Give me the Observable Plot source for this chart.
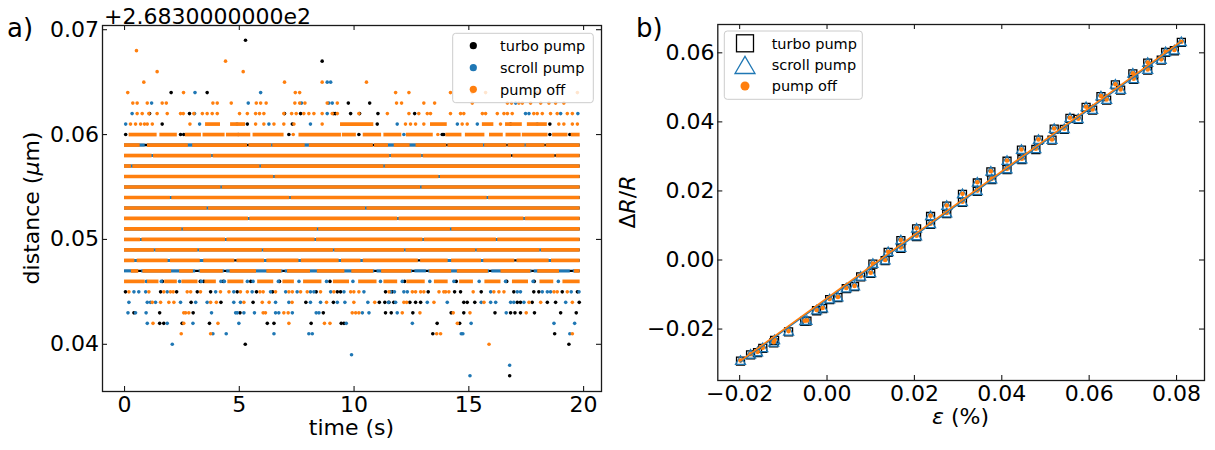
<!DOCTYPE html>
<html><head><meta charset="utf-8">
<script src="https://cdn.jsdelivr.net/npm/d3@7"></script>
<script src="https://cdn.jsdelivr.net/npm/@observablehq/plot@0.6"></script>
<style>
body{margin:0;background:#fff;}
#wrap{position:relative;width:1215px;height:450px;font-family:"DejaVu Sans",sans-serif;overflow:hidden;}
#wrap svg{position:absolute;top:0;}
</style></head><body><div id="wrap"></div>
<script>
const C_TURBO = "#000000", C_SCROLL = "#1f77b4", C_OFF = "#ff7f0e";
const seriesNames = ["turbo pump", "scroll pump", "pump off"];

// ---------- panel a: distance vs time (offset +2.6830000000e2 µm) ----------
const timeTicks = [0, 5, 10, 15, 20];
const distTicks = [0.04, 0.05, 0.06, 0.07];
const T_END = 19.85;

// occupied time ranges per quantised level: [level, [[t0,t1],...]]
const turboRuns = [
  [0.047,[[0,T_END]]],[0.048,[[0,T_END]]],[0.049,[[0,T_END]]],[0.050,[[0,T_END]]],
  [0.051,[[0,T_END]]],[0.052,[[0,T_END]]],[0.053,[[0,T_END]]],[0.054,[[0,T_END]]],
  [0.055,[[0,T_END]]],[0.056,[[0,T_END]]],[0.057,[[0,T_END]]],[0.058,[[0,T_END]]],
  [0.059,[[0,T_END]]]
];
const scrollRuns = [
  [0.047,[[0,0.6],[0.75,3.1],[3.25,4.35],[4.45,6.9],[7.0,10.9],[11.0,12.55],[12.65,13.15],[13.25,15.9],[16.0,17.75],[17.85,19.42],[19.55,T_END]]],
  [0.048,[[0,4.8],[4.9,12.8],[12.9,17.0],[17.1,T_END]]],
  [0.049,[[0,T_END]]],[0.050,[[0,T_END]]],[0.051,[[0,T_END]]],[0.052,[[0,T_END]]],
  [0.053,[[0,T_END]]],[0.054,[[0,T_END]]],[0.055,[[0,T_END]]],[0.056,[[0,T_END]]],
  [0.057,[[0,T_END]]],
  [0.058,[[0,16.85],[16.93,18.74],[18.82,T_END]]],
  [0.059,[[0,0.9],[1.0,5.35],[5.45,10.82],[10.9,14.02],[14.1,16.64],[16.72,18.3],[18.38,T_END]]]
];
const offRuns = [
  [0.046,[[0,0.9],[1.0,1.5],[1.75,2.3],[2.5,3.2],[3.5,4.0],[4.5,5.2],[5.8,6.5],[6.9,7.4],[7.8,8.6],[9.1,9.8],[10.2,11.0],[11.3,11.9],[12.3,13.1],[13.5,14.1],[14.6,15.2],[15.7,16.4],[16.9,17.6],[18.1,18.7],[19.1,T_END]]],
  [0.047,[[0.3,0.62],[0.8,2.05],[2.4,3.0],[3.3,4.3],[4.6,5.75],[6.2,6.85],[7.1,8.1],[8.4,9.6],[9.9,10.85],[11.2,12.5],[13.3,14.25],[14.5,15.85],[16.4,17.7],[18.0,18.95],[19.6,T_END]]],
  [0.048,[[0,0.45],[0.55,1.9],[2.0,3.3],[3.45,4.8],[4.9,6.1],[6.2,7.6],[7.7,9.35],[9.45,10.3],[10.4,12.8],[12.9,14.1],[14.25,15.55],[15.65,17.0],[17.1,18.5],[18.6,T_END]]],
  [0.049,[[0,1.3],[1.36,3.2],[3.26,6.0],[6.06,9.1],[9.16,12.2],[12.26,15.3],[15.36,18.1],[18.16,T_END]]],
  [0.050,[[0,0.7],[0.76,4.4],[4.46,8.3],[8.36,13.0],[13.06,16.2],[16.26,T_END]]],
  [0.051,[[0,2.5],[2.56,8.4],[8.46,14.2],[14.26,T_END]]],
  [0.052,[[0,5.4],[5.46,11.9],[11.96,17.4],[17.46,T_END]]],
  [0.053,[[0,3.6],[3.66,10.5],[10.56,T_END]]],
  [0.054,[[0,2.0],[2.06,7.2],[7.26,15.8],[15.86,T_END]]],
  [0.055,[[0,4.2],[4.26,12.9],[12.96,T_END]]],
  [0.056,[[0,6.5],[6.56,13.7],[13.76,T_END]]],
  [0.057,[[0,0.3],[0.36,5.9],[5.96,11.3],[11.36,T_END]]],
  [0.058,[[0,1.2],[1.26,3.8],[3.86,11.56],[11.62,12.95],[13.01,16.86],[16.92,18.75],[18.81,T_END]]],
  [0.059,[[0,0.68],[1.0,2.78],[2.97,5.36],[5.42,6.41],[6.46,7.87],[8.05,10.84],[10.89,11.5],[11.75,12.44],[12.7,14.04],[14.09,15.64],[15.69,16.66],[16.71,17.45],[17.5,18.32],[18.37,T_END]]],
  [0.060,[[0.2,1.42],[1.54,2.3],[2.65,3.35],[3.42,4.38],[4.44,5.5],[5.6,6.95],[7.6,9.45],[9.49,10.1],[10.4,11.2],[11.3,12.08],[12.28,13.45],[14.0,14.7],[14.85,15.7],[15.9,16.5],[16.62,17.28],[17.33,18.45],[18.65,19.32],[19.46,T_END]]],
  [0.061,[[3.53,4.18],[4.62,5.27],[9.41,10.86],[13.33,14.06],[15.59,16.09],[16.6,17.33],[17.55,18.42]]]
];

// isolated samples: [level, [t,...]]
const turboDots = [
  [0.069,[5.27]],
  [0.067,[8.61]],
  [0.064,[2.03,3.6]],
  [0.063,[9.75,10.68]],
  [0.062,[1.09,2.83,6.97,7.67,9.12,9.19,9.85,10.24,11.04,12.64]],
  [0.061,[1.64,5.35,7.31,11.01,16.82,18.53]],
  [0.060,[0.05,2.44,2.58,4.95,7.16,10.21,13.84,13.91,18.53,19.4]],
  [0.046,[1.65,3.3,3.45,4.3,5.5,6.75,8.95,12.2,14.45,16.65,17.85]],
  [0.045,[0.04,1.57,2.27,3.17,3.75,4.91,5.75,6.45,8.35,9.27,9.41,11.37,11.66,13.23,14.38,14.64,15.54,16.96,17.83,18.05,19.07,19.73]],
  [0.044,[2.9,4.2,5.6,7.9,9.1,11.1,11.34,11.52,11.73,12.43,12.68,12.9,14.78,14.93,15.26,17.11,17.25,17.76,18.42,18.78,19.81]],
  [0.043,[0.41,1.53,2.99,5.03,8.66,11.37,11.62,12.56,14.23,14.78,16.14,16.82,17.01,17.25,17.86,19.0,19.68]],
  [0.042,[1.53,1.71,2.51,3.7,6.22,6.51,8.13,9.44,9.56,13.62,14.6]],
  [0.041,[13.43,18.74]],
  [0.040,[5.26,19.36]],
  [0.037,[16.78]]
];
const scrollDots = [
  [0.065,[8.83,8.98]],
  [0.064,[3.07,5.93]],
  [0.063,[1.18,5.39,7.71,8.9,9.05,17.04]],
  [0.062,[0.33,3.05,8.83,17.47,17.62,19.0,19.75]],
  [0.061,[0.05,3.27,4.9,6.29,8.1,11.88,14.5,15.37,17.98]],
  [0.060,[12.17]],
  [0.046,[0.95,1.6,2.4,3.35,4.2,4.35,5.35,5.6,6.7,7.6,8.8,9.95,11.15,12.1,13.3,14.35,15.45,16.6,17.8,18.9]],
  [0.045,[0.41,0.62,0.92,1.86,3.97,4.76,5.56,6.36,7.02,7.52,8.1,8.25,8.98,9.56,10.43,11.59,11.76,12.17,12.32,15.95,17.11,17.25,18.2,18.42,18.56,19.46,19.8]],
  [0.044,[0.19,0.99,1.13,1.35,2.44,3.1,3.6,4.76,5.05,6.58,7.16,8.1,8.54,9.27,9.6,10.6,11.5,11.81,13.19,14.06,15.54,15.95,16.17,16.82,16.96,17.4,19.22]],
  [0.043,[0.15,0.48,0.94,3.79,4.84,4.91,5.2,5.66,6.58,6.72,7.31,8.35,8.47,10.36,10.65,11.88,16.63]],
  [0.042,[0.99,1.86,2.98,4.98,9.66,12.54,15.1,18.71,19.61]],
  [0.041,[3.85,4.43,6.51,8.03,8.18,14.67,14.74,19.4]],
  [0.040,[2.08]],
  [0.039,[9.89]],
  [0.038,[16.78]],
  [0.037,[15.05]]
];
const offDots = [
  [0.068,[0.52]],
  [0.067,[4.4]],
  [0.066,[1.42,5.17]],
  [0.065,[0.84,6.97,8.61,10.54]],
  [0.064,[0.14,2.57,7.44,7.63,11.81,12.39,14.2,15.15,15.73,17.98,19.73]],
  [0.063,[0.36,0.55,0.99,1.64,1.82,3.85,4.04,4.65,5.74,5.93,6.17,7.42,7.63,7.86,8.83,9.27,11.85,12.07,13.04,13.51,15.15,16.68,16.86,17.18,17.33,17.69,18.13,18.49,18.78,19.14]],
  [0.062,[0.55,0.77,1.06,1.42,1.86,2.44,2.56,3.02,3.39,3.6,3.82,4.04,5.01,5.35,5.71,5.88,6.07,6.94,7.28,7.48,7.81,8.03,8.25,8.61,9.05,9.27,10.21,11.45,12.39,12.82,13.19,13.33,14.2,14.64,14.78,15.59,15.73,16.24,16.53,16.68,16.89,17.83,17.98,18.2,18.56,18.85,19.29,19.51]],
  [0.061,[0.26,0.48,0.70,0.87,0.99,1.21,2.85,5.71,6.07,6.51,6.94,7.38,8.61,12.24,12.46,12.68,13.04,14.71,14.93,16.38,18.92,19.14,19.51,19.73]],
  [0.060,[7.35,13.65]],
  [0.045,[0.19,1.06,1.71,2.0,2.12,2.73,2.88,3.31,4.18,4.55,5.05,5.35,5.9,6.04,6.58,7.16,7.31,7.67,7.96,8.54,9.12,9.85,9.99,10.21,11.52,12.54,12.68,12.9,13.04,13.7,13.91,13.99,14.13,15.19,16.09,16.31,16.53,18.71,18.85,19.29]],
  [0.044,[1.21,1.57,1.93,2.15,3.75,4.0,5.2,6.0,6.3,7.3,8.8,9.99,10.9,12.17,12.29,13.48,15.66,17.62,18.13,19.51]],
  [0.043,[2.58,2.66,2.8,6.04,6.14,6.94,7.13,9.92,10.07,10.21,12.1,12.87,14.32,15.05,17.5]],
  [0.042,[1.24,2.58,4.07,7.16,8.71,8.95,14.5]],
  [0.041,[2.47,3.75,13.6,13.77,19.51]],
  [0.040,[15.88]]
];

// ---------- panel b: ΔR/R vs ε ----------
const epsTicks = [-0.02, 0.00, 0.02, 0.04, 0.06, 0.08];
const drTicks = [-0.02, 0.00, 0.02, 0.04, 0.06];
const eps = [-0.0198,-0.0175,-0.0159,-0.0147,-0.0122,-0.0120,-0.0088,-0.0051,-0.0046,-0.0024,-0.0010,0.0006,0.0025,0.0044,0.0063,0.0077,0.0100,0.0105,0.0133,0.0140,0.0169,0.0169,0.0205,0.0205,0.0237,0.0237,0.0274,0.0274,0.0310,0.0310,0.0344,0.0344,0.0377,0.0375,0.0412,0.0412,0.0446,0.0445,0.0478,0.0484,0.0515,0.0520,0.0543,0.0556,0.0575,0.0593,0.0608,0.0627,0.0640,0.0660,0.0672,0.0700,0.0702,0.0734,0.0734,0.0765,0.0775,0.0795,0.0811];
const drTurbo = [-0.0293,-0.0275,-0.0268,-0.0256,-0.0240,-0.0233,-0.0208,-0.0178,-0.0177,-0.0147,-0.0141,-0.0115,-0.0109,-0.0083,-0.0077,-0.0049,-0.0039,-0.0012,-0.0002,0.0022,0.0034,0.0056,0.0068,0.0090,0.0103,0.0126,0.0134,0.0156,0.0167,0.0190,0.0199,0.0223,0.0233,0.0255,0.0262,0.0286,0.0291,0.0318,0.0320,0.0347,0.0347,0.0379,0.0378,0.0410,0.0407,0.0442,0.0434,0.0473,0.0463,0.0507,0.0492,0.0539,0.0523,0.0570,0.0550,0.0579,0.0601,0.0606,0.0630];
const drScroll = [-0.0294,-0.0276,-0.0269,-0.0257,-0.0241,-0.0234,-0.0209,-0.0179,-0.0178,-0.0148,-0.0142,-0.0116,-0.0110,-0.0084,-0.0078,-0.0050,-0.0040,-0.0013,-0.0003,0.0021,0.0033,0.0055,0.0067,0.0089,0.0102,0.0125,0.0133,0.0155,0.0166,0.0189,0.0198,0.0222,0.0232,0.0254,0.0261,0.0285,0.0290,0.0317,0.0319,0.0346,0.0346,0.0378,0.0377,0.0409,0.0406,0.0441,0.0433,0.0472,0.0462,0.0506,0.0491,0.0538,0.0522,0.0569,0.0549,0.0578,0.0600,0.0605,0.0629];
const drOff = [-0.0291,-0.0273,-0.0266,-0.0254,-0.0238,-0.0231,-0.0206,-0.0176,-0.0175,-0.0145,-0.0139,-0.0113,-0.0107,-0.0081,-0.0075,-0.0047,-0.0037,-0.0010,0.0000,0.0024,0.0036,0.0058,0.0070,0.0092,0.0105,0.0128,0.0136,0.0158,0.0169,0.0192,0.0201,0.0225,0.0235,0.0257,0.0264,0.0288,0.0293,0.0320,0.0322,0.0349,0.0349,0.0381,0.0380,0.0412,0.0409,0.0444,0.0436,0.0475,0.0465,0.0509,0.0494,0.0541,0.0525,0.0572,0.0552,0.0581,0.0603,0.0608,0.0632];
// linear fits
const fitEps = [-0.0198, 0.0811];
const fitScroll = [-0.0295, 0.0630];
const fitOff = [-0.0292, 0.0634];

// ---------- helpers ----------
const runs = arr => arr.flatMap(([y, segs]) => segs.map(([x1, x2]) => ({y, x1, x2})));
const pts = arr => arr.flatMap(([y, ts]) => ts.map(x => ({x, y})));
const AX = "#1a1a1a";
const FONT = "DejaVu Sans";
const TL = 5; // inward tick length (px)

// ---------- plot a ----------
const A_W = 610, A_H = 450, A_ML = 102, A_MR = 9, A_MT = 25, A_MB = 59;
const aFW = A_W - A_ML - A_MR, aFH = A_H - A_MT - A_MB;
const DR = 1.8;
const plotA = Plot.plot({
  width: A_W, height: A_H,
  marginLeft: A_ML, marginRight: A_MR, marginTop: A_MT, marginBottom: A_MB,
  x: {domain: [-0.96, 20.78], label: null},
  y: {domain: [0.0355, 0.0704], label: null},
  style: {fontFamily: FONT, fontSize: "22px", background: "transparent", color: "#000", overflow: "visible"},
  marks: [
    Plot.ruleY(runs(turboRuns), {y: "y", x1: "x1", x2: "x2", stroke: C_TURBO, strokeWidth: 2.4}),
    Plot.dot(pts(turboDots), {x: "x", y: "y", r: DR, fill: C_TURBO}),
    Plot.ruleY(runs(scrollRuns), {y: "y", x1: "x1", x2: "x2", stroke: C_SCROLL, strokeWidth: 3.0}),
    Plot.dot(pts(scrollDots), {x: "x", y: "y", r: DR, fill: C_SCROLL}),
    Plot.ruleY(runs(offRuns), {y: "y", x1: "x1", x2: "x2", stroke: C_OFF, strokeWidth: 3.7}),
    Plot.dot(pts(offDots), {x: "x", y: "y", r: DR, fill: C_OFF}),
    Plot.frame({stroke: AX, strokeWidth: 1.3}),
    Plot.tickY(distTicks, {y: d => d, insetRight: aFW - TL, stroke: AX, strokeWidth: 1.1}),
    Plot.tickY(distTicks, {y: d => d, insetLeft: aFW - TL, stroke: AX, strokeWidth: 1.1}),
    Plot.tickX(timeTicks, {x: d => d, insetTop: aFH - TL, stroke: AX, strokeWidth: 1.1}),
    Plot.tickX(timeTicks, {x: d => d, insetBottom: aFH - TL, stroke: AX, strokeWidth: 1.1}),
    Plot.axisX({ticks: timeTicks, tickSize: 0, tickPadding: 5, fontSize: 22, label: null, tickFormat: d => String(d)}),
    Plot.axisY({ticks: distTicks, tickSize: 0, tickPadding: 3.5, fontSize: 22, label: null, tickFormat: d3.format(".2f")})
  ]
});

// ---------- plot b ----------
const B_LEFT = 610;
const B_W = 605, B_H = 450, B_ML = 107.3, B_MR = 11, B_MT = 24, B_MB = 70;
const bFW = B_W - B_ML - B_MR, bFH = B_H - B_MT - B_MB;
const plotB = Plot.plot({
  width: B_W, height: B_H,
  marginLeft: B_ML, marginRight: B_MR, marginTop: B_MT, marginBottom: B_MB,
  x: {domain: [-0.025, 0.0864], label: null},
  y: {domain: [-0.0349, 0.0682], label: null},
  style: {fontFamily: FONT, fontSize: "22px", background: "transparent", color: "#000", overflow: "visible"},
  marks: [
    Plot.dot(eps, {x: eps, y: drTurbo, symbol: "square", r: 4.5, stroke: C_TURBO, fill: "none", strokeWidth: 1.3}),
    Plot.dot(eps, {x: eps, y: drScroll, symbol: "triangle", r: 3.7, stroke: C_SCROLL, fill: "none", strokeWidth: 1.3}),
    Plot.dot(eps, {x: eps, y: drOff, r: 2.3, fill: C_OFF}),
    Plot.line(fitEps, {x: fitEps, y: fitScroll, stroke: C_SCROLL, strokeWidth: 1.6}),
    Plot.line(fitEps, {x: fitEps, y: fitOff, stroke: C_OFF, strokeWidth: 1.6}),
    Plot.frame({stroke: AX, strokeWidth: 1.3}),
    Plot.tickY(drTicks, {y: d => d, insetRight: bFW - TL, stroke: AX, strokeWidth: 1.1}),
    Plot.tickY(drTicks, {y: d => d, insetLeft: bFW - TL, stroke: AX, strokeWidth: 1.1}),
    Plot.tickX(epsTicks, {x: d => d, insetTop: bFH - TL, stroke: AX, strokeWidth: 1.1}),
    Plot.tickX(epsTicks, {x: d => d, insetBottom: bFH - TL, stroke: AX, strokeWidth: 1.1}),
    Plot.axisX({ticks: epsTicks, tickSize: 0, tickPadding: 4.5, fontSize: 22, label: null, tickFormat: d3.format(".2f")}),
    Plot.axisY({ticks: drTicks, tickSize: 0, tickPadding: 3.3, fontSize: 22, label: null, tickFormat: d3.format(".2f")})
  ]
});

const wrap = document.getElementById("wrap");
plotA.style.left = "0px";
plotB.style.left = B_LEFT + "px";
wrap.appendChild(plotA);
wrap.appendChild(plotB);

// ---------- overlay: panel labels, axis titles, legends ----------
const ov = d3.select(wrap).append("svg")
  .attr("width", 1215).attr("height", 450)
  .style("left", "0px").style("pointer-events", "none")
  .attr("font-family", FONT);

ov.append("text").attr("x", 7).attr("y", 37).attr("font-size", 26).text("a)");
ov.append("text").attr("x", 636).attr("y", 37).attr("font-size", 26).text("b)");
ov.append("text").attr("x", 104).attr("y", 24).attr("font-size", 22).text("+2.6830000000e2");

const yl = ov.append("text").attr("transform", "translate(38.5,208) rotate(-90)")
  .attr("text-anchor", "middle").attr("font-size", 22);
yl.append("tspan").text("distance (");
yl.append("tspan").attr("font-style", "italic").text("μ");
yl.append("tspan").text("m)");

ov.append("text").attr("x", 351.5).attr("y", 435).attr("text-anchor", "middle")
  .attr("font-size", 22).text("time (s)");

const yl2 = ov.append("text").attr("transform", "translate(635,202) rotate(-90)")
  .attr("text-anchor", "middle").attr("font-size", 22);
yl2.append("tspan").text("Δ");
yl2.append("tspan").attr("font-style", "italic").text("R");
yl2.append("tspan").text("/");
yl2.append("tspan").attr("font-style", "italic").text("R");

const xl2 = ov.append("text").attr("x", 960.5).attr("y", 424).attr("text-anchor", "middle")
  .attr("font-size", 22);
xl2.append("tspan").attr("font-style", "italic").text("ε");
xl2.append("tspan").text(" (%)");

// legend a
ov.append("rect").attr("x", 452.7).attr("y", 33.3).attr("width", 140.6).attr("height", 69.4)
  .attr("rx", 3).attr("fill", "#fff").attr("fill-opacity", 0.8).attr("stroke", "#cccccc").attr("stroke-width", 1);
const legA = [[45.7, C_TURBO], [67.7, C_SCROLL], [89.3, C_OFF]];
legA.forEach(([cy, c], i) => {
  ov.append("circle").attr("cx", 473.3).attr("cy", cy).attr("r", 3.6).attr("fill", c);
  ov.append("text").attr("x", 500).attr("y", cy + 5.3).attr("font-size", 14.5).text(seriesNames[i]);
});

// legend b
ov.append("rect").attr("x", 724.3).attr("y", 31).attr("width", 138).attr("height", 68.3)
  .attr("rx", 3).attr("fill", "#fff").attr("fill-opacity", 0.8).attr("stroke", "#cccccc").attr("stroke-width", 1);
ov.append("rect").attr("x", 736.5).attr("y", 34.8).attr("width", 17).attr("height", 17)
  .attr("fill", "none").attr("stroke", C_TURBO).attr("stroke-width", 1.3);
ov.append("path").attr("d", "M745,56.3L755,73.5L735,73.5Z")
  .attr("fill", "none").attr("stroke", C_SCROLL).attr("stroke-width", 1.3);
ov.append("circle").attr("cx", 745).attr("cy", 86).attr("r", 4.5).attr("fill", C_OFF);
[43.3, 65, 86].forEach((cy, i) => {
  ov.append("text").attr("x", 771.7).attr("y", cy + 5.3).attr("font-size", 14.5).text(seriesNames[i]);
});
</script></body></html>
